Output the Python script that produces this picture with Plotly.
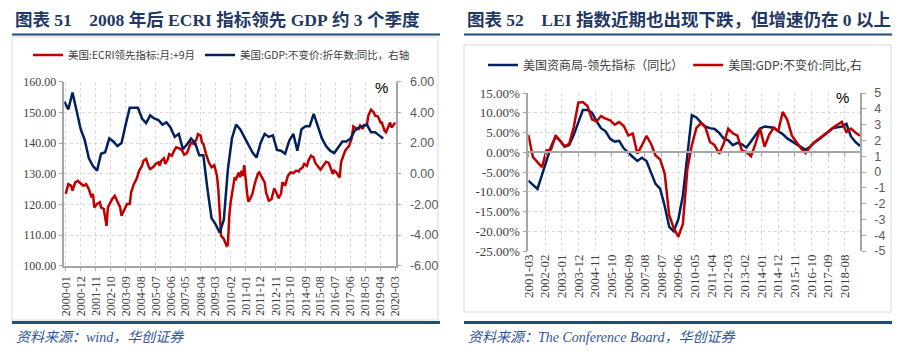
import plotly.graph_objects as go

W, H = 913, 362

# ---------------- 图表 51 data ----------------
ecri_dates = [
    "2000-01", "2000-02", "2000-03", "2000-05", "2000-06", "2000-08", "2000-10", "2000-11",
    "2001-01", "2001-02", "2001-04", "2001-06", "2001-08", "2001-09", "2001-10", "2001-12",
    "2002-02", "2002-03", "2002-05", "2002-07", "2002-08", "2002-09", "2002-11",
    "2003-01", "2003-03", "2003-05", "2003-06", "2003-08", "2003-10", "2003-12",
    "2004-01", "2004-03", "2004-05", "2004-07", "2004-09", "2004-10", "2004-12",
    "2005-02", "2005-03", "2005-05", "2005-07", "2005-09", "2005-10", "2005-11",
    "2006-01", "2006-02", "2006-04", "2006-05", "2006-07", "2006-08", "2006-10", "2006-12",
    "2007-02", "2007-04", "2007-06", "2007-08", "2007-09", "2007-11",
    "2008-01", "2008-02", "2008-04", "2008-05", "2008-06", "2008-08", "2008-10", "2008-12",
    "2009-02", "2009-04", "2009-05", "2009-06", "2009-07", "2009-09", "2009-10", "2009-11", "2009-12",
    "2010-01", "2010-02", "2010-04", "2010-05", "2010-06", "2010-08", "2010-09", "2010-10", "2010-11", "2010-12",
    "2011-02", "2011-03", "2011-04", "2011-06", "2011-08", "2011-10", "2011-11",
    "2012-01", "2012-03", "2012-04", "2012-06", "2012-08", "2012-09", "2012-10", "2012-12",
    "2013-01", "2013-03", "2013-04", "2013-06", "2013-07", "2013-08", "2013-10", "2013-12",
    "2014-02", "2014-04", "2014-05", "2014-07", "2014-08", "2014-10", "2014-11",
    "2015-01", "2015-03", "2015-04", "2015-06", "2015-08", "2015-10", "2015-12",
    "2016-02", "2016-04", "2016-05", "2016-06", "2016-08", "2016-09", "2016-10", "2016-11",
    "2017-01", "2017-02", "2017-04", "2017-05", "2017-07", "2017-08", "2017-10", "2017-12",
    "2018-01", "2018-02", "2018-03", "2018-04", "2018-06", "2018-07", "2018-09", "2018-11", "2018-12",
    "2019-02", "2019-03", "2019-04", "2019-05", "2019-07", "2019-08", "2019-09", "2019-11", "2019-12",
    "2020-01", "2020-03",
]
ecri_values = [
    123.4, 125.5, 126.6, 126.1, 124.5, 127.2, 127.7, 127.2,
    126.6, 126.1, 126.6, 125.0, 122.3, 123.4, 119.0, 120.1,
    120.7, 119.0, 118.5, 113.0, 119.0, 120.1, 121.7,
    122.8, 120.7, 119.0, 116.3, 118.5, 120.1, 120.1,
    123.9, 126.6, 128.3, 131.0, 132.6, 134.2, 134.8,
    132.1, 131.5, 132.1, 133.2, 133.7, 132.6, 134.2,
    135.0, 133.2, 134.8, 136.4, 135.9, 137.0, 138.6, 138.3,
    137.8, 136.2, 136.7, 139.1, 140.2, 139.7,
    141.3, 142.9, 142.4, 140.2, 139.7, 136.4, 133.7, 132.1,
    132.8, 129.3, 125.0, 117.4, 109.8, 108.7, 107.8, 106.5, 106.8,
    116.3, 120.7, 126.1, 128.8, 128.3, 130.4, 128.8, 131.0, 129.3, 132.8,
    123.9, 120.9, 121.5, 123.4, 127.2, 129.9, 130.4,
    128.8, 127.2, 123.9, 121.2, 121.7, 123.9, 125.2, 123.4,
    122.0, 123.4, 127.2, 126.1, 127.4, 129.3, 130.4, 130.2,
    131.0, 130.7, 131.5, 132.1, 133.2, 132.6, 134.2,
    135.9, 135.3, 133.7, 132.4, 131.3, 132.6, 133.9,
    133.5, 131.5, 129.9, 131.0, 130.2, 129.3, 128.8, 133.7,
    135.9, 137.5, 138.6, 139.1, 141.8, 145.4, 144.8, 144.6,
    145.7, 145.1, 144.6, 145.9, 145.9, 148.9, 150.9, 150.0, 148.9,
    148.7, 147.8, 146.7, 146.7, 144.0, 143.5, 144.6, 146.7, 145.1,
    145.7, 146.7,
]
gdp51_dates = [
    "1999-12",
    "2000-03", "2000-06", "2000-09", "2000-12", "2001-03", "2001-06", "2001-09", "2001-12",
    "2002-03", "2002-06", "2002-09", "2002-12", "2003-03", "2003-06", "2003-09", "2003-12",
    "2004-03", "2004-06", "2004-09", "2004-12", "2005-03", "2005-06", "2005-09", "2005-12",
    "2006-03", "2006-06", "2006-09", "2006-12", "2007-03", "2007-06", "2007-09", "2007-12",
    "2008-03", "2008-06", "2008-09", "2008-12", "2009-03", "2009-06", "2009-09", "2009-12",
    "2010-03", "2010-06", "2010-09", "2010-12", "2011-03", "2011-06", "2011-09", "2011-12",
    "2012-03", "2012-06", "2012-09", "2012-12", "2013-03", "2013-06", "2013-09", "2013-12",
    "2014-03", "2014-06", "2014-09", "2014-12", "2015-03", "2015-06", "2015-09", "2015-12",
    "2016-03", "2016-06", "2016-09", "2016-12", "2017-03", "2017-06", "2017-09", "2017-12",
    "2018-03", "2018-06", "2018-09", "2018-12", "2019-03", "2019-06",
]
gdp51_values = [
    4.7,
    4.2, 5.3, 4.0, 2.9, 2.2, 1.0, 0.5, 0.2,
    1.3, 1.4, 2.3, 2.1, 1.8, 2.0, 3.2, 4.3,
    4.3, 4.3, 3.6, 3.3, 3.8, 3.6, 3.5, 3.2,
    3.35, 3.0, 2.4, 2.6, 1.6, 1.9, 2.3, 2.0,
    1.2, 1.2, -1.0, -2.9, -3.3, -3.85, -3.0, 0.3,
    2.3, 3.2, 2.9, 2.4, 1.9, 1.4, 1.05, 2.0,
    2.6, 2.4, 2.5, 1.55, 1.5, 1.3, 2.15, 2.6,
    1.5, 2.9, 3.1, 3.1, 3.9, 3.1, 2.3, 1.8,
    1.5, 1.35, 1.7, 2.1, 2.1, 2.3, 2.8, 3.0,
    3.1, 3.2, 2.7, 2.7, 2.5, 2.3,
]
ticks51 = ["2000-01", "2000-12", "2001-11", "2002-10", "2003-09", "2004-08", "2005-07",
           "2006-06", "2007-05", "2008-04", "2009-03", "2010-02", "2011-01", "2011-12",
           "2012-11", "2013-10", "2014-09", "2015-08", "2016-07", "2017-06", "2018-05",
           "2019-04", "2020-03"]
left51_ticks = [100, 110, 120, 130, 140, 150, 160]
right51_ticks = [-6, -4, -2, 0, 2, 4, 6]

# ---------------- 图表 52 data ----------------
q52_dates = [
    "2001-03", "2001-06", "2001-09", "2001-12", "2002-03", "2002-06", "2002-09", "2002-12",
    "2003-03", "2003-06", "2003-09", "2003-12", "2004-03", "2004-06", "2004-09", "2004-12",
    "2005-03", "2005-06", "2005-09", "2005-12", "2006-03", "2006-06", "2006-09", "2006-12",
    "2007-03", "2007-06", "2007-09", "2007-12", "2008-03", "2008-06", "2008-09", "2008-12",
    "2009-03", "2009-06", "2009-09", "2009-12", "2010-03", "2010-06", "2010-09", "2010-12",
    "2011-03", "2011-06", "2011-09", "2011-12", "2012-03", "2012-06", "2012-09", "2012-12",
    "2013-03", "2013-06", "2013-09", "2013-12", "2014-03", "2014-06", "2014-09", "2014-12",
    "2015-03", "2015-06", "2015-09", "2015-12", "2016-03", "2016-06", "2016-09", "2016-12",
    "2017-03", "2017-06", "2017-09", "2017-12", "2018-03", "2018-06", "2018-09", "2018-12",
    "2019-03", "2019-06",
]
lei_values = [
    -7.2, -8.3, -9.3, -5.7, -2.2, 1.4, 4.0, 2.9, 1.4, 1.85,
    4.4, 7.75, 10.7, 10.7, 10.0, 7.9, 6.1, 5.3, 3.4, 2.7,
    2.9, 1.0, -0.2, -1.2, -2.2, -1.4, -2.2, -5.0, -8.0, -9.2,
    -13.6, -18.9, -20.0, -17.0, -11.0, -0.7, 9.4, 8.8, 7.5, 6.5,
    6.1, 5.9, 4.9, 3.5, 3.0, 1.8, 2.4, 2.0, 1.2, 2.7,
    4.4, 6.0, 6.5, 6.3, 6.2, 5.3, 4.6, 3.5, 2.8, 2.0,
    1.2, 0.6, 1.4, 2.5, 3.3, 4.2, 5.0, 6.1, 6.3, 6.5,
    7.2, 4.0, 2.6, 1.6,
]
gdp52_values = [
    2.36, 0.95, 0.63, 0.3, 1.37, 1.43, 2.32, 2.0, 1.62, 1.79,
    2.85, 4.39, 4.43, 4.18, 3.33, 3.2, 3.54, 3.38, 3.27, 3.0,
    3.16, 2.91, 2.32, 2.43, 1.16, 1.69, 2.28, 1.79, 1.05, 0.8,
    -0.1, -2.74, -3.54, -4.1, -3.3, 0.2, 1.7, 2.8, 3.1, 2.8,
    1.9, 1.7, 1.16, 1.8, 2.75, 2.45, 2.3, 1.35, 1.27, 1.0,
    1.8, 2.75, 1.6, 2.35, 2.8, 2.6, 3.8, 3.3, 2.3, 1.9,
    1.5, 1.2, 1.6, 1.9, 2.1, 2.3, 2.55, 2.8, 3.0, 3.17,
    2.53, 2.75, 2.5, 2.3,
]
ticks52 = ["2001-03", "2002-02", "2003-01", "2003-12", "2004-11", "2005-10", "2006-09",
           "2007-08", "2008-07", "2009-06", "2010-05", "2011-04", "2012-03", "2013-02",
           "2014-01", "2014-12", "2015-11", "2016-10", "2017-09", "2018-08"]
left52_ticks = [-25, -20, -15, -10, -5, 0, 5, 10, 15]
right52_ticks = [-5, -4, -3, -2, -1, 0, 1, 2, 3, 4, 5]

# ---------------- styling helpers ----------------
def px(x):
    return x / W


def py(y):
    return 1 - y / H


RED = "#C00000"
NAVY = "#002060"
AX = "#A6A6A6"
GRID = "#D9D9D9"
TITLE_C = "#1F3864"
RULE_C = "#1F4E79"
SERIF = "Liberation Serif, Noto Sans CJK SC"
SANS = "Liberation Sans, Noto Sans CJK SC"
CJK = "Noto Sans CJK SC"

fig = go.Figure()
fig.add_trace(go.Scatter(x=ecri_dates, y=ecri_values, name="美国:ECRI领先指标:月:+9月",
                         mode="lines", line=dict(color=RED, width=2.5),
                         xaxis="x", yaxis="y", legend="legend"))
fig.add_trace(go.Scatter(x=gdp51_dates, y=gdp51_values, name="美国:GDP:不变价:折年数:同比，右轴",
                         mode="lines", line=dict(color=NAVY, width=2.5),
                         xaxis="x", yaxis="y2", legend="legend"))
fig.add_trace(go.Scatter(x=q52_dates, y=lei_values, name="美国资商局-领先指标（同比）",
                         mode="lines", line=dict(color=NAVY, width=2.5),
                         xaxis="x3", yaxis="y3", legend="legend2"))
fig.add_trace(go.Scatter(x=q52_dates, y=gdp52_values, name="美国:GDP:不变价:同比,右",
                         mode="lines", line=dict(color=RED, width=2.5),
                         xaxis="x3", yaxis="y4", legend="legend2"))
# carrier for the zero-crossing category axis of chart 52
fig.add_trace(go.Scatter(x=[q52_dates[0]], y=[0], mode="lines", showlegend=False,
                         hoverinfo="skip", line=dict(width=0), xaxis="x5", yaxis="y3"))

tick_serif12 = dict(family=SERIF, size=12, color="#404040")
tick_serif13 = dict(family=SERIF, size=13, color="#404040")
tick_sans = dict(family=SANS, size=12.5, color="#595959")

common_axis = dict(showline=True, linecolor=AX, linewidth=1.5, ticks="outside",
                   ticklen=4, tickcolor=AX, zeroline=False, automargin=False)

fig.update_layout(
    width=W, height=H, autosize=False,
    margin=dict(l=0, r=0, t=0, b=0, autoexpand=False),
    paper_bgcolor="white", plot_bgcolor="white",
    hovermode=False,
    xaxis=dict(domain=[px(64.3), px(395.7)], anchor="y", type="date",
               range=["1999-12-01", "2020-03-05"],
               tickvals=ticks51, ticktext=ticks51, tickangle=-90, tickfont=tick_serif12,
               showgrid=True, gridcolor=GRID, griddash="dot", gridwidth=1, **common_axis),
    yaxis=dict(domain=[py(265.7), py(81.7)], anchor="x", range=[100, 160],
               tickvals=left51_ticks, ticktext=[f"{v:.2f}" for v in left51_ticks],
               tickfont=tick_serif12, showgrid=True, gridcolor=GRID, griddash="dot",
               **common_axis),
    yaxis2=dict(overlaying="y", anchor="x", side="right", range=[-6, 6],
                tickvals=right51_ticks, ticktext=[f"{v:.2f}" for v in right51_ticks],
                tickfont=tick_sans, showgrid=False, ticklabelstandoff=6, **common_axis),
    xaxis3=dict(domain=[px(528.3), px(860)], anchor="y3", type="date",
                range=["2001-03-01", "2019-06-01"],
                tickvals=ticks52, ticktext=ticks52, tickangle=-90, tickfont=tick_serif13,
                showgrid=True, gridcolor=GRID, griddash="dot", showline=False,
                ticks="", zeroline=False, automargin=False),
    xaxis5=dict(overlaying="x3", anchor="free", position=py(152.3), type="date",
                range=["2001-03-01", "2019-06-01"], tickvals=ticks52,
                showticklabels=False, showgrid=False, showline=True, linecolor=AX,
                linewidth=2, ticks="outside", ticklen=4, tickcolor=AX, zeroline=False,
                automargin=False),
    yaxis3=dict(domain=[py(251), py(93)], anchor="x3", range=[-25, 15],
                tickvals=left52_ticks, ticktext=[f"{v:.2f}%" for v in left52_ticks],
                tickfont=tick_serif13, showgrid=True, gridcolor=GRID, griddash="dot",
                **common_axis),
    yaxis4=dict(overlaying="y3", anchor="x3", side="right", range=[-5, 5],
                tickvals=right52_ticks, ticktext=[str(v) for v in right52_ticks],
                tickfont=tick_sans, showgrid=False, ticklabelstandoff=6, **common_axis),
    legend=dict(x=px(28), y=py(55), xanchor="left", yanchor="middle", orientation="h",
                font=dict(family=CJK, size=10.5, color="#404040"),
                bgcolor="rgba(0,0,0,0)", borderwidth=0, itemwidth=30),
    legend2=dict(x=px(483), y=py(65), xanchor="left", yanchor="middle", orientation="h",
                 font=dict(family=CJK, size=12, color="#404040"),
                 bgcolor="rgba(0,0,0,0)", borderwidth=0, itemwidth=30),
)

shapes = [
    dict(type="rect", xref="paper", yref="paper", x0=px(12), x1=px(438), y0=py(320), y1=py(37),
         line=dict(color=GRID, width=1), layer="below"),
    dict(type="rect", xref="paper", yref="paper", x0=px(464), x1=px(891), y0=py(312), y1=py(45),
         line=dict(color=GRID, width=1), layer="below"),
    dict(type="line", xref="paper", yref="paper", x0=px(12), x1=px(440), y0=py(34.5), y1=py(34.5),
         line=dict(color=RULE_C, width=2)),
    dict(type="line", xref="paper", yref="paper", x0=px(464), x1=px(892), y0=py(34.5), y1=py(34.5),
         line=dict(color=RULE_C, width=2)),
    dict(type="line", xref="paper", yref="paper", x0=px(12), x1=px(440), y0=py(322.5), y1=py(322.5),
         line=dict(color=RULE_C, width=3)),
    dict(type="line", xref="paper", yref="paper", x0=px(464), x1=px(892), y0=py(322.5), y1=py(322.5),
         line=dict(color=RULE_C, width=3)),
]
fig.update_layout(shapes=shapes)

NB = "\u00a0"
annotations = [
    dict(text=f"<b>图表{NB}51{NB}{NB}{NB}{NB}2008{NB}年后{NB}ECRI{NB}指标领先{NB}GDP{NB}约{NB}3{NB}个季度</b>",
         x=px(13), y=py(20), xanchor="left", yanchor="middle",
         font=dict(family=SERIF, size=17.5, color=TITLE_C)),
    dict(text=f"<b>图表{NB}52{NB}{NB}{NB}{NB}LEI{NB}指数近期也出现下跌，但增速仍在{NB}0{NB}以上</b>",
         x=px(465), y=py(20), xanchor="left", yanchor="middle",
         font=dict(family=SERIF, size=17.5, color=TITLE_C)),
    dict(text="%", x=px(381), y=py(87), xanchor="center", yanchor="middle",
         font=dict(family=SANS, size=15, color="#000000")),
    dict(text="%", x=px(842), y=py(98), xanchor="center", yanchor="middle",
         font=dict(family=SANS, size=15, color="#000000")),
    dict(text="<i>资料来源：wind，华创证券</i>", x=px(14), y=py(337), xanchor="left",
         yanchor="middle", font=dict(family=SERIF, size=14, color="#2F5597")),
    dict(text="<i>资料来源：The Conference Board，华创证券</i>", x=px(466), y=py(337),
         xanchor="left", yanchor="middle", font=dict(family=SERIF, size=14, color="#2F5597")),
]
for a in annotations:
    a.update(xref="paper", yref="paper", showarrow=False)
fig.update_layout(annotations=annotations)

fig.write_html("out.html", config={"displayModeBar": False},
               post_script="document.body.style.margin='0';document.body.style.padding='0';")
